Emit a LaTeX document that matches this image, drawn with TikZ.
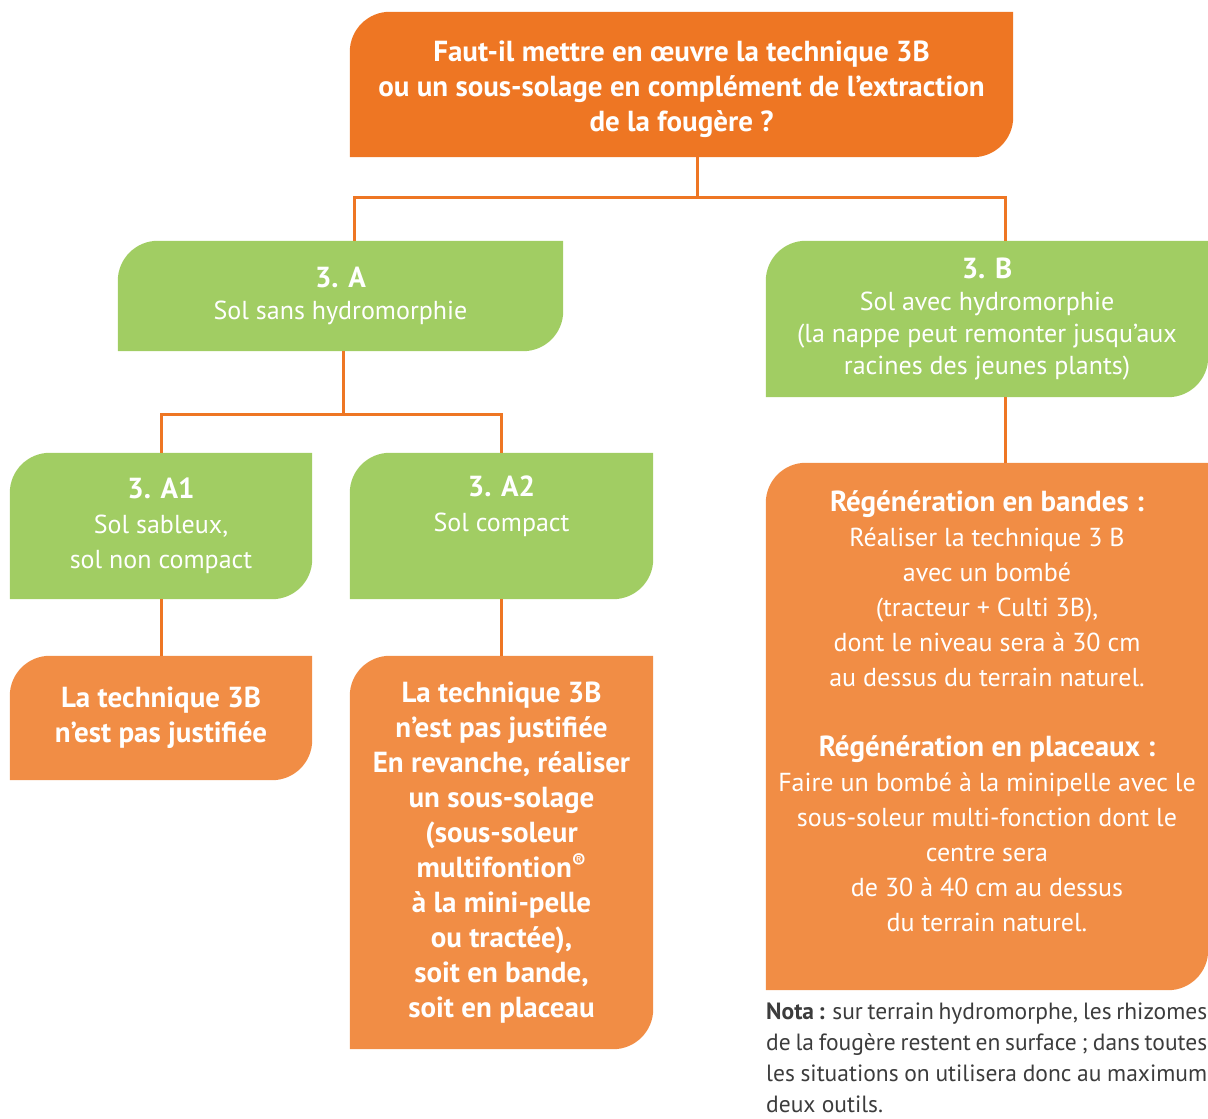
\documentclass[tikz,border=0pt]{standalone}
\usepackage{fontspec}
\setmainfont{PT Sans}
\usepackage{tikz}
\usetikzlibrary{positioning, backgrounds}

\definecolor{topOrange}{HTML}{EE7623}
\definecolor{boxOrange}{HTML}{F18D45}
\definecolor{soilGreen}{HTML}{A1CD63}
\definecolor{notaGray}{HTML}{3C3C3C}

\newcommand{\bigbold}{\fontsize{29}{35}\bfseries}

\begin{document}
\begin{tikzpicture}[
    x = 1pt, y = 1pt,
    leaf/.style = {
      rectangle,
      inner sep = 0pt,
      align = center,
      text = white,
      font = \fontsize{26}{35}\selectfont,
    },
    link/.style = {
      draw = topOrange,
      line width = 3pt,
    }
  ]
  \useasboundingbox (0, 0) rectangle (1208, 1119);

  \node [leaf, minimum width = 663pt, minimum height = 145pt, text height = 101pt,
    font = \bigbold\selectfont]
    (question) at (681.5, 1034.5)
    {Faut-il mettre en œuvre la technique 3B\\
     ou un sous-solage en complément de l’extraction\\
     de la fougère ?};

  \node [leaf, minimum width = 445pt, minimum height = 110pt, font = \fontsize{26}{32}\selectfont]
    (soilA) at (340.5, 823)
    {{\bigbold 3. A}\\Sol sans hydromorphie};
  \node [leaf, minimum width = 442pt, minimum height = 156pt, font = \fontsize{26}{32}\selectfont]
    (soilB) at (987, 800)
    {{\bigbold 3. B}\\Sol avec hydromorphie\\
     (la nappe peut remonter jusqu’aux\\
     racines des jeunes plants)};

  \node [leaf, minimum width = 302pt, minimum height = 146pt]
    (soilA1) at (161, 593)
    {{\bigbold 3. A1}\\Sol sableux,\\sol non compact};
  \node [leaf, minimum width = 303pt, minimum height = 146pt]
    (soilA2) at (501.5, 593)
    {{\bigbold 3. A2}\\Sol compact\\\strut};

  \node [leaf, minimum width = 302pt, minimum height = 124pt, font = \bigbold\selectfont]
    (answerA1) at (161, 401)
    {La technique 3B\\n’est pas justifiée};
  \node [leaf, minimum width = 303pt, minimum height = 393pt, font = \bigbold\selectfont]
    (answerA2) at (501.5, 266.5)
    {La technique 3B\\n’est pas justifiée\\En revanche, réaliser\\
     un sous-solage\\(sous-soleur\\multifontion\textsuperscript{®}\\
     à la mini-pelle\\ou tractée),\\soit en bande,\\soit en placeau};
  \node [leaf, minimum width = 442pt, minimum height = 527pt, text depth = 30pt]
    (answerB) at (987, 392.5)
    {{\bigbold Régénération en bandes :}\\Réaliser la technique 3 B\\
     avec un bombé\\(tracteur + Culti 3B),\\dont le niveau sera à 30 cm\\
     au dessus du terrain naturel.\\[35pt]
     {\bigbold Régénération en placeaux :}\\Faire un bombé à la minipelle avec le\\
     sous-soleur multi-fonction dont le\\centre sera\\
     de 30 à 40 cm au dessus\\du terrain naturel.};

  \node [anchor = north west, inner sep = 0pt, text width = 441pt, align = justify,
    text = notaGray, font = \fontsize{23.5}{31}\selectfont]
    (nota) at (766, 116)
    {{\bfseries Nota :} sur terrain hydromorphe, les rhizomes de la fougère restent
     en surface ; dans toutes les situations on utilisera donc au maximum
     deux outils.};

  \begin{scope}[on background layer]
    \foreach \leafname/\leafcolor in {question/topOrange, soilA/soilGreen,
      soilB/soilGreen, soilA1/soilGreen, soilA2/soilGreen,
      answerA1/boxOrange, answerA2/boxOrange, answerB/boxOrange}
      \fill [\leafcolor] (\leafname.south west)
        -- ([yshift = -40pt]\leafname.north west)
        arc [start angle = 180, end angle = 90, radius = 40pt]
        -- (\leafname.north east)
        -- ([yshift = 40pt]\leafname.south east)
        arc [start angle = 0, end angle = -90, radius = 40pt]
        -- cycle;

    \coordinate (forkTop) at (697, 921);
    \coordinate (forkA) at (343, 704);
    \draw [link] (question.south -| forkTop) -- (forkTop);
    \draw [link] (forkTop) -| ([xshift = 13.5pt]soilA.north);
    \draw [link] (forkTop) -| ([xshift = 18pt]soilB.north);
    \draw [link] (soilA.south -| forkA) -- (forkA);
    \draw [link] (forkA) -| (soilA1.north);
    \draw [link] (forkA) -| (soilA2.north);
    \draw [link] (soilA1.south) -- (answerA1.north);
    \draw [link] (soilA2.south) -- (answerA2.north);
    \draw [link] ([xshift = 18pt]soilB.south) -- ([xshift = 18pt]answerB.north);
  \end{scope}
\end{tikzpicture}
\end{document}
